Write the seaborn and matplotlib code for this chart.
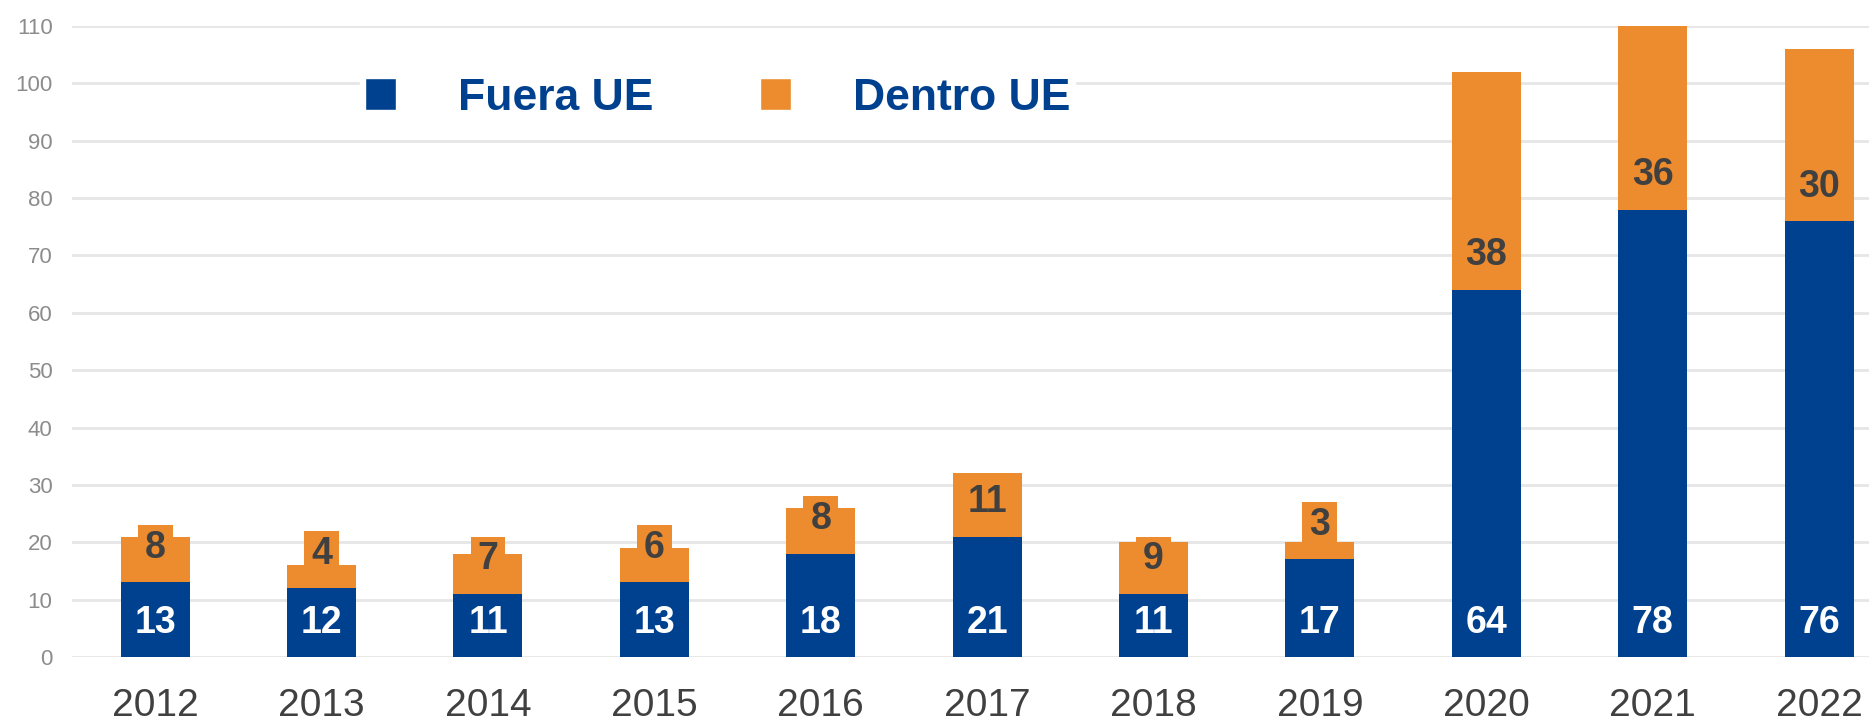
import pandas as pd
import seaborn as sns
import matplotlib.pyplot as plt
from matplotlib.patches import Patch

years = ["2012", "2013", "2014", "2015", "2016", "2017", "2018", "2019", "2020", "2021", "2022"]
fuera_ue = [13, 12, 11, 13, 18, 21, 11, 17, 64, 78, 76]
dentro_ue = [8, 4, 7, 6, 8, 11, 9, 3, 38, 36, 30]
# leftover narrow tops visible above some orange segments in the source picture
cap_top = [23, 22, 21, 23, 28, 0, 21, 27, 0, 0, 0]

blue = "#00418F"
orange = "#ED8C2F"
dark = "#404040"

df = pd.DataFrame({"year": years, "fuera": fuera_ue, "dentro": dentro_ue, "cap": cap_top})
df["total"] = df["fuera"] + df["dentro"]

sns.set_style("white")
plt.rcParams["font.family"] = ["Liberation Sans", "DejaVu Sans"]

fig = plt.figure(figsize=(18.69, 7.24), dpi=100)
ax = fig.add_axes([72 / 1869, 1 - 657 / 724, 1 - 72 / 1869, (657 - 26) / 724])

sns.barplot(data=df, x="year", y="cap", color=orange, saturation=1, width=0.21,
            linewidth=0, ax=ax, zorder=2)
sns.barplot(data=df, x="year", y="total", color=orange, saturation=1, width=0.415,
            linewidth=0, ax=ax, zorder=3)
sns.barplot(data=df, x="year", y="fuera", color=blue, saturation=1, width=0.415,
            linewidth=0, ax=ax, zorder=4)

# value labels sit a fixed distance above each segment's base
offset = 6
for i in range(len(years)):
    ax.text(i, offset, str(fuera_ue[i]), ha="center", va="center",
            color="white", fontsize=27, fontweight="bold", zorder=6)
    ax.text(i, fuera_ue[i] + offset, str(dentro_ue[i]), ha="center", va="center",
            color=dark, fontsize=27, fontweight="bold", zorder=6)

ax.set_ylim(0, 110)
ax.set_xlim(-0.5, 10.3)
ax.set_yticks(range(0, 111, 10))
ax.yaxis.grid(True, color="#e6e6e6", linewidth=2)
ax.set_axisbelow(True)
for s in ax.spines.values():
    s.set_visible(False)
ax.set_xlabel("")
ax.set_ylabel("")
ax.tick_params(axis="y", length=0, pad=14, labelsize=16, labelcolor="#8c8c8c")
ax.tick_params(axis="x", length=0, pad=22, labelsize=28, labelcolor=dark)

handles = [Patch(facecolor=blue, label="Fuera UE"), Patch(facecolor=orange, label="Dentro UE")]
leg = ax.legend(handles=handles, ncol=2, loc="center left",
                bbox_to_anchor=((338 - 72) / 1797, (657 - 98) / 631),
                bbox_transform=ax.transAxes,
                frameon=True, fancybox=False, edgecolor="white", framealpha=1,
                prop={"size": 32, "weight": "bold"},
                handlelength=0.7, handleheight=0.7, handletextpad=1.4,
                columnspacing=2.4, borderpad=0.1)
for t in leg.get_texts():
    t.set_color(blue)
leg.set_zorder(5)

plt.savefig("out.png", dpi=100)
